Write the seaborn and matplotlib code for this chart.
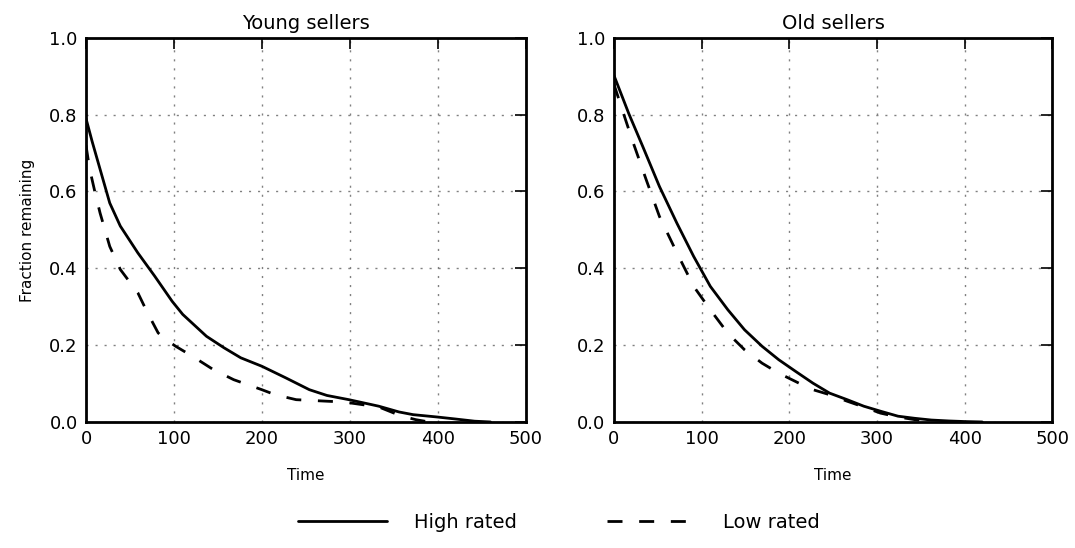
import numpy as np
import pandas as pd
import matplotlib
matplotlib.use('Agg')
import matplotlib.pyplot as plt
import seaborn as sns

# Young sellers
young_high_t = [0, 7, 14, 27, 39, 59, 78, 98, 110, 137, 157, 176, 200, 227, 254, 274, 299, 333, 356, 372, 399, 419, 442, 460]
young_high_f = [0.79, 0.73, 0.674, 0.570, 0.51, 0.44, 0.38, 0.314, 0.28, 0.223, 0.193, 0.167, 0.145, 0.115, 0.084, 0.069, 0.058, 0.041, 0.026, 0.019, 0.013, 0.008, 0.002, 0.0]
young_low_t = [0, 4, 10, 16, 27, 39, 59, 70, 82, 88, 102, 121, 145, 168, 200, 215, 239, 274, 293, 333, 358, 375, 390]
young_low_f = [0.72, 0.66, 0.60, 0.544, 0.457, 0.397, 0.336, 0.284, 0.232, 0.219, 0.197, 0.171, 0.136, 0.11, 0.084, 0.071, 0.058, 0.054, 0.052, 0.039, 0.016, 0.006, 0.0]

# Old sellers
old_high_t = [0, 17, 33, 52, 72, 91, 110, 130, 149, 169, 188, 207, 227, 246, 266, 285, 304, 324, 343, 362, 382, 401, 420]
old_high_f = [0.903, 0.803, 0.717, 0.613, 0.517, 0.431, 0.353, 0.292, 0.24, 0.197, 0.162, 0.132, 0.101, 0.075, 0.058, 0.041, 0.028, 0.015, 0.0095, 0.005, 0.0026, 0.001, 0.0]
old_low_t = [0, 10, 21, 37, 52, 72, 91, 110, 130, 149, 169, 188, 211, 227, 246, 266, 285, 304, 324, 343, 360]
old_low_f = [0.88, 0.81, 0.734, 0.63, 0.535, 0.44, 0.353, 0.292, 0.231, 0.188, 0.153, 0.127, 0.101, 0.084, 0.071, 0.054, 0.039, 0.023, 0.013, 0.006, 0.002]

panels = ['Young sellers', 'Old sellers']
ratings = ['High rated', 'Low rated']


def make_df(t, f, rating):
    return pd.DataFrame({'Time': t, 'Fraction remaining': f, 'Rating': rating})


data = {
    'Young sellers': pd.concat([make_df(young_high_t, young_high_f, 'High rated'),
                                make_df(young_low_t, young_low_f, 'Low rated')]),
    'Old sellers': pd.concat([make_df(old_high_t, old_high_f, 'High rated'),
                              make_df(old_low_t, old_low_f, 'Low rated')]),
}

sns.set_style('white')
plt.rcParams['font.family'] = ['DejaVu Sans']
plt.rcParams['text.color'] = 'black'
plt.rcParams['axes.labelcolor'] = 'black'
plt.rcParams['xtick.color'] = 'black'
plt.rcParams['ytick.color'] = 'black'

fig = plt.figure(figsize=(10.75, 5.48), dpi=100)
ax1 = fig.add_axes([0.080, 0.230, 0.409, 0.701])
ax2 = fig.add_axes([0.571, 0.230, 0.408, 0.701])

for ax, name in zip([ax1, ax2], panels):
    sns.lineplot(data=data[name], x='Time', y='Fraction remaining', style='Rating',
                 style_order=ratings, dashes={'High rated': '', 'Low rated': (5.4, 6)},
                 color='black', linewidth=2, sort=False, legend=False, ax=ax)
    ax.set_xlim(0, 500)
    ax.set_ylim(0, 1)
    ax.set_xticks([0, 100, 200, 300, 400, 500])
    ax.set_yticks([0.0, 0.2, 0.4, 0.6, 0.8, 1.0])
    ax.set_yticklabels(['0.0', '0.2', '0.4', '0.6', '0.8', '1.0'])
    ax.tick_params(which='both', length=8, width=1.2, colors='black', labelsize=13, pad=6,
                   top=True, right=True, direction='in')
    ax.grid(True, color='0.5', linestyle=(0, (1.5, 5)), linewidth=1)
    for s in ax.spines.values():
        s.set_color('black')
        s.set_linewidth(2)
        s.set_visible(True)
    ax.set_title(name, fontsize=14, pad=6, color='black')
    ax.set_xlabel('Time', fontsize=11, labelpad=14)
    ax.set_ylabel('')

ax1.set_ylabel('Fraction remaining', fontsize=11, labelpad=10)

handles = [ax1.lines[0], ax1.lines[1]]
fig.legend(handles, ratings, loc='center', bbox_to_anchor=(0.52, 0.046), ncol=2,
           frameon=False, fontsize=14, handlelength=4.6, handletextpad=1.4,
           columnspacing=4.6)

fig.savefig('out.png', dpi=100)
